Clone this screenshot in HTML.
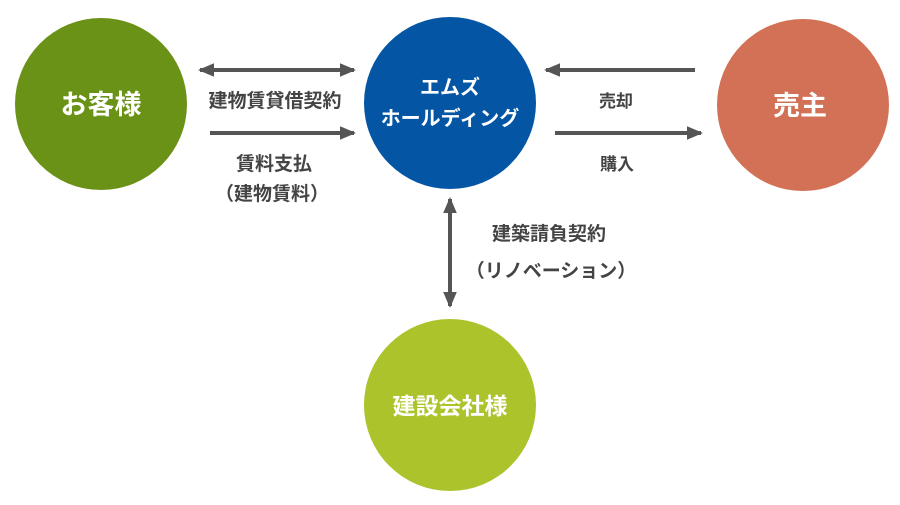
<!DOCTYPE html>
<html><head><meta charset="utf-8"><style>
body{margin:0;background:#fff;}
svg text{font-family:"Liberation Sans","Noto Sans CJK JP",sans-serif;font-weight:bold;}
</style></head><body>
<svg width="900" height="500" viewBox="0 0 900 500" xmlns="http://www.w3.org/2000/svg">
<defs>
<marker id="a" markerWidth="4" markerHeight="4" refX="3.5" refY="2" orient="auto-start-reverse" markerUnits="strokeWidth">
<path d="M0,0.3 L4,2 L0,3.7 Z" fill="#555"/></marker>
</defs>
<circle cx="101" cy="104" r="86" fill="#6a9217"/>
<circle cx="450" cy="103" r="86" fill="#0456a5"/>
<circle cx="803" cy="105" r="86" fill="#d27155"/>
<circle cx="450" cy="405" r="86" fill="#adc32b"/>
<g fill="#fff" text-anchor="middle">
<text x="101" y="114" font-size="27">お客様</text>
<text x="450" y="94" font-size="20">エムズ</text>
<text x="450" y="125" font-size="20">ホールディング</text>
<text x="800" y="115" font-size="27">売主</text>
<text x="450" y="414" font-size="23">建設会社様</text>
</g>
<g stroke="#555" stroke-width="4" fill="none">
<line x1="200" y1="70" x2="354" y2="70" marker-start="url(#a)" marker-end="url(#a)"/>
<line x1="210" y1="133" x2="354" y2="133" marker-end="url(#a)"/>
<line x1="695" y1="70" x2="546" y2="70" marker-end="url(#a)"/>
<line x1="555" y1="133" x2="701" y2="133" marker-end="url(#a)"/>
<line x1="450" y1="199" x2="450" y2="306" marker-start="url(#a)" marker-end="url(#a)"/>
</g>
<g fill="#444" font-size="19" text-anchor="middle">
<text x="275" y="107">建物賃貸借契約</text>
<text x="274" y="170">賃料支払</text>
<text x="272" y="200">（建物賃料）</text>
<text x="616" y="107" font-size="17">売却</text>
<text x="617" y="170" font-size="17">購入</text>
<text x="549" y="240">建築請負契約</text>
<text x="551" y="277">（リノベーション）</text>
</g>
</svg>
</body></html>
